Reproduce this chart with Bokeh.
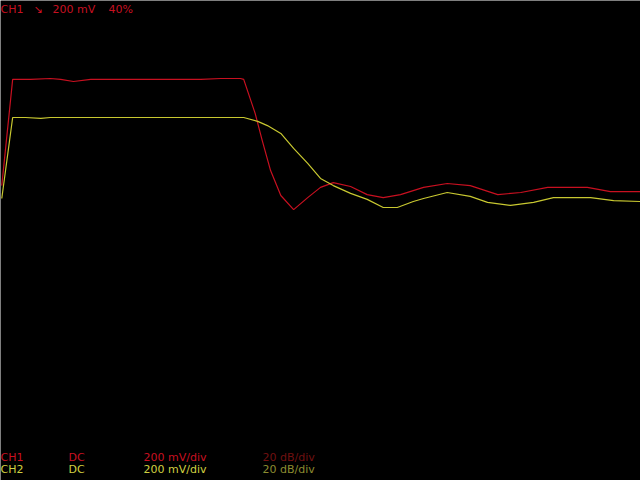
from bokeh.plotting import figure
from bokeh.models import Range1d, Label
from bokeh.embed import file_html
from bokeh.resources import INLINE

# time in divisions (10 div across), voltage in mV (200 mV/div, 8 div)
ch1_t = [0.02, 0.19, 0.47, 0.78, 0.94, 1.14, 1.41, 1.88, 2.5, 3.13, 3.44, 3.75, 3.8,
         3.98, 4.09, 4.22, 4.38, 4.58, 4.8, 5.0, 5.2, 5.47, 5.73, 5.98, 6.25, 6.61,
         6.98, 7.34, 7.77, 8.13, 8.55, 9.17, 9.53, 10.0]
ch1_mv = [183, 537, 537, 540, 537, 530, 537, 537, 537, 537, 540, 540, 537,
          423, 333, 233, 150, 103, 143, 177, 193, 180, 153, 143, 153, 177,
          190, 183, 153, 160, 177, 177, 163, 163]

ch2_t = [0.02, 0.19, 0.39, 0.63, 0.78, 1.56, 2.34, 3.13, 3.8, 4.02, 4.17, 4.38, 4.58,
         4.8, 5.0, 5.2, 5.47, 5.73, 5.98, 6.2, 6.45, 6.61, 6.98, 7.34, 7.61, 7.97,
         8.33, 8.64, 9.22, 9.58, 10.0]
ch2_mv = [140, 410, 410, 407, 410, 410, 410, 410, 410, 397, 383, 357, 307,
          257, 207, 183, 157, 137, 110, 110, 130, 140, 160, 147, 127, 117,
          127, 143, 143, 133, 130]

header = ["CH1", "\u2198", "200 mV", "40%"]
row1 = ["CH1", "DC", "200 mV/div", "20 dB/div"]
row2 = ["CH2", "DC", "200 mV/div", "20 dB/div"]

RED = "#c81020"
YEL = "#d0d040"
LINE_RED = "#c81020"
LINE_YEL = "#c8c830"
DIM_RED = "#701010"
DIM_YEL = "#8c8c30"

W, H = 640, 480
p = figure(width=W, height=H, output_backend="svg", toolbar_location=None,
           x_range=Range1d(0, 10), y_range=Range1d(-800, 800),
           min_border=0, background_fill_color="black", border_fill_color="black")
p.axis.visible = False
p.grid.visible = False
p.outline_line_color = None

p.line(ch1_t, ch1_mv, line_color=LINE_RED, line_width=1.2)
p.line(ch2_t, ch2_mv, line_color=LINE_YEL, line_width=1.2)

def px_x(px):
    return px / 64.0

def px_y(py):
    return (240 - py) * 10.0 / 3.0

FONT = "DejaVu Sans"
FS = "11px"

hx = [0, 33, 52, 108]
for txt, x in zip(header, hx):
    p.add_layout(Label(x=px_x(x), y=px_y(8.5), text=txt, text_color=RED,
                       text_font=FONT, text_font_size=FS, text_baseline="alphabetic"))

cols = [0, 68, 143, 262]
c1 = [RED, RED, RED, DIM_RED]
c2 = [YEL, YEL, YEL, DIM_YEL]
for txt, x, c in zip(row1, cols, c1):
    p.add_layout(Label(x=px_x(x), y=px_y(456.5), text=txt, text_color=c,
                       text_font=FONT, text_font_size=FS, text_baseline="alphabetic"))
for txt, x, c in zip(row2, cols, c2):
    p.add_layout(Label(x=px_x(x), y=px_y(468.5), text=txt, text_color=c,
                       text_font=FONT, text_font_size=FS, text_baseline="alphabetic"))

open("out.html", "w").write(file_html(p, INLINE))
